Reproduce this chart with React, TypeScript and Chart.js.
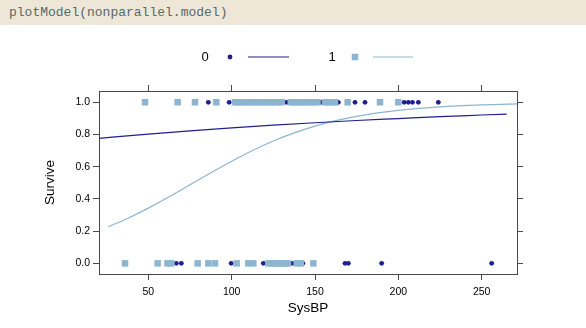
import React, { useEffect, useRef } from 'react';
import { Chart, registerables } from 'chart.js';
Chart.register(...registerables);

// Observations: SysBP of patients in group 0 (circles) and group 1 (squares)
const group0Survived = [86, 98.5, 133, 153.6, 164, 174, 180, 203.5, 206, 208.5, 212, 224];
const group0Died = [66.8, 69.8, 99.7, 119, 136.3, 142.7, 168, 170, 190, 256];
const group1Survived = [48, 67.6, 78, 90.8, 102, 104, 106.5, 109, 111, 113.5, 116, 118, 120.5, 123, 125, 127.5, 130, 135.5, 137.5, 140, 142, 144.5, 147, 149, 151.5, 156, 158, 160, 162, 169.6, 189, 200];
const group1Died = [36, 55.6, 61.5, 63.8, 79.6, 86, 90, 103, 110, 113, 122, 124, 126, 128, 130, 132, 133.8, 139, 141.5, 149];

// Fitted survival curves
const curve0X = [20, 50, 75, 100, 125, 150, 175, 200, 225, 250, 265];
const curve0Y = [0.776, 0.802, 0.822, 0.841, 0.858, 0.873, 0.887, 0.899, 0.911, 0.921, 0.927];
const curve1X = [26, 37.5, 50, 62.5, 75, 87.5, 100, 112.5, 125, 137.5, 150, 162.5, 175, 187.5, 200, 225, 250, 275];
const curve1Y = [0.227, 0.279, 0.343, 0.413, 0.488, 0.562, 0.634, 0.701, 0.76, 0.81, 0.852, 0.886, 0.913, 0.934, 0.95, 0.972, 0.984, 0.991];

// Tick values
const xTickValues = [50, 100, 150, 200, 250];
const yTickValues = [0, 0.2, 0.4, 0.6, 0.8, 1.0];

const groupLabels = ['0', '1'];
const xTitle = 'SysBP';
const yTitle = 'Survive';
const codeLine = 'plotModel(nonparallel.model)';

const NAVY = '#1f1f8f';
const LIGHT = '#8db5cf';
const AXIS = '#4a4a4a';
const SANS = '"Liberation Sans", Arial, Helvetica, sans-serif';

export default function App() {
  const ref = useRef<HTMLCanvasElement>(null);

  useEffect(() => {
    document.body.style.margin = '0';
    document.body.style.background = '#ffffff';
    const pts = (xs: number[], y: number) => xs.map((x) => ({ x, y }));
    const curve = (xs: number[], ys: number[]) => xs.map((x, i) => ({ x, y: ys[i] }));
    const setTicks = (vals: number[]) => (s: any) => { s.ticks = vals.map((v) => ({ value: v })); };

    const keyPlugin = {
      id: 'latticeKey',
      afterDraw(chart: any) {
        const { ctx, chartArea } = chart;
        const cx = (chartArea.left + chartArea.right) / 2;
        const y = 57;
        ctx.save();
        ctx.font = `13px ${SANS}`;
        ctx.fillStyle = '#000';
        ctx.textAlign = 'center';
        ctx.textBaseline = 'middle';
        ctx.fillText(groupLabels[0], cx - 103, y);
        ctx.fillText(groupLabels[1], cx + 24, y);
        // group 0 symbol
        ctx.fillStyle = NAVY;
        ctx.beginPath();
        ctx.arc(cx - 78, y, 2.4, 0, Math.PI * 2);
        ctx.fill();
        ctx.strokeStyle = NAVY;
        ctx.lineWidth = 1.2;
        ctx.beginPath();
        ctx.moveTo(cx - 60, y);
        ctx.lineTo(cx - 19, y);
        ctx.stroke();
        // group 1 symbol
        ctx.fillStyle = LIGHT;
        ctx.fillRect(cx + 47 - 3.25, y - 3.25, 6.5, 6.5);
        ctx.strokeStyle = LIGHT;
        ctx.beginPath();
        ctx.moveTo(cx + 65, y);
        ctx.lineTo(cx + 105, y);
        ctx.stroke();
        ctx.restore();
      },
    };

    const tickFont = { family: SANS, size: 10.5 };
    const titleFont = { family: SANS, size: 13.5 };
    const gridOpts = { display: true, drawOnChartArea: false, drawTicks: true, tickLength: 6, color: AXIS, lineWidth: 1 };
    const borderOpts = { display: true, color: AXIS, width: 1 };
    const xMin = 20.4, xMax = 271.2, yMin = -0.066, yMax = 1.07;

    const chart = new Chart(ref.current as HTMLCanvasElement, {
      type: 'scatter',
      data: {
        datasets: [
          {
            type: 'line',
            label: groupLabels[0] + ' fit',
            data: curve(curve0X, curve0Y),
            borderColor: NAVY,
            borderWidth: 1.2,
            pointRadius: 0,
            pointHoverRadius: 0,
            showLine: true,
            fill: false,
            cubicInterpolationMode: 'monotone',
            xAxisID: 'x',
            yAxisID: 'y',
            order: 0,
          } as any,
          {
            type: 'line',
            label: groupLabels[1] + ' fit',
            data: curve(curve1X, curve1Y),
            borderColor: LIGHT,
            borderWidth: 1.2,
            pointRadius: 0,
            pointHoverRadius: 0,
            showLine: true,
            fill: false,
            cubicInterpolationMode: 'monotone',
            xAxisID: 'x',
            yAxisID: 'y',
            order: 0,
          } as any,
          {
            label: groupLabels[1],
            data: [...pts(group1Survived, 1), ...pts(group1Died, 0)],
            pointStyle: 'rect',
            pointRadius: 4.6,
            pointHoverRadius: 4.6,
            backgroundColor: LIGHT,
            borderWidth: 0,
            xAxisID: 'x',
            yAxisID: 'y',
            order: 1,
          } as any,
          {
            label: groupLabels[0],
            data: [...pts(group0Survived, 1), ...pts(group0Died, 0)],
            pointStyle: 'circle',
            pointRadius: 2.4,
            pointHoverRadius: 2.4,
            backgroundColor: NAVY,
            borderWidth: 0,
            xAxisID: 'x',
            yAxisID: 'y',
            order: 2,
          } as any,
        ],
      },
      options: {
        animation: false,
        responsive: false,
        events: [],
        layout: { padding: { left: 0, right: 0, top: 0, bottom: 12 } },
        plugins: { legend: { display: false }, tooltip: { enabled: false }, title: { display: false } },
        scales: {
          x: {
            type: 'linear',
            position: 'bottom',
            min: xMin,
            max: xMax,
            afterBuildTicks: setTicks(xTickValues),
            ticks: { color: '#000', font: tickFont, padding: 6, maxRotation: 0, autoSkip: false },
            grid: gridOpts,
            border: borderOpts,
            title: { display: true, text: xTitle, color: '#000', font: titleFont, padding: { top: 0, bottom: 0 } },
            afterFit: (s: any) => { s.height = 42; },
          },
          x2: {
            type: 'linear',
            position: 'top',
            min: xMin,
            max: xMax,
            afterBuildTicks: setTicks(xTickValues),
            ticks: { display: false, autoSkip: false },
            grid: gridOpts,
            border: borderOpts,
            afterFit: (s: any) => { s.height = 91; },
          },
          y: {
            type: 'linear',
            position: 'left',
            min: yMin,
            max: yMax,
            afterBuildTicks: setTicks(yTickValues),
            ticks: {
              color: '#000',
              font: tickFont,
              padding: 3,
              autoSkip: false,
              callback: (v: any) => Number(v).toFixed(1),
            },
            grid: gridOpts,
            border: borderOpts,
            title: { display: true, text: yTitle, color: '#000', font: titleFont, padding: { top: 42, bottom: 0 } },
            afterFit: (s: any) => { s.width = 99; },
          },
          y2: {
            type: 'linear',
            position: 'right',
            min: yMin,
            max: yMax,
            afterBuildTicks: setTicks(yTickValues),
            ticks: { display: false, autoSkip: false },
            grid: gridOpts,
            border: borderOpts,
            afterFit: (s: any) => { s.width = 69; },
          },
        },
      } as any,
      plugins: [keyPlugin],
    });
    return () => chart.destroy();
  }, []);

  return (
    <div style={{ position: 'relative', width: 586, height: 328, background: '#fff', overflow: 'hidden' }}>
      <canvas ref={ref} width={586} height={328} style={{ position: 'absolute', left: 0, top: 0, display: 'block' }} />
      <div
        style={{
          position: 'absolute',
          left: 0,
          top: 0,
          width: 586,
          height: 25,
          background: '#eee7d7',
          color: '#566a6a',
          fontFamily: '"Liberation Mono", "DejaVu Sans Mono", monospace',
          fontSize: 13,
          lineHeight: '25px',
          paddingLeft: 9,
          boxSizing: 'border-box',
          whiteSpace: 'pre',
        }}
      >
        {codeLine}
      </div>
    </div>
  );
}
